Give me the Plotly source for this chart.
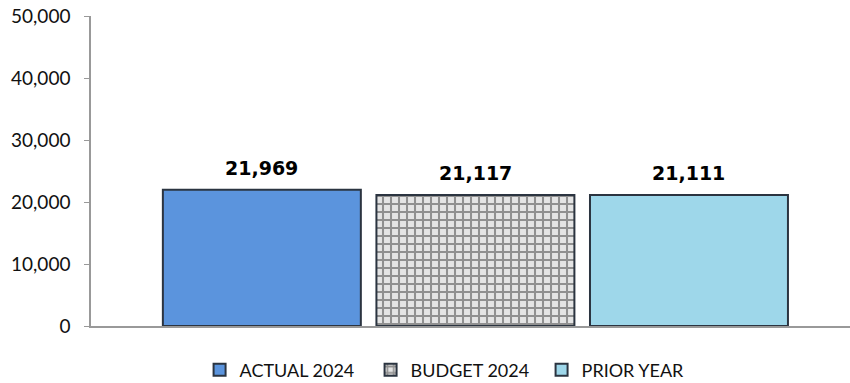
import plotly.graph_objects as go

# one bar per series
series_names = ['ACTUAL 2024', 'BUDGET 2024', 'PRIOR YEAR']
series_values = [21969, 21117, 21111]

y_ticks = [0, 10000, 20000, 30000, 40000, 50000]
y_tick_labels = ['0', '10,000', '20,000', '30,000', '40,000', '50,000']

fills = ['#5B94DD', '#E4E4E4', '#9ED7EA']
patterns = [None, dict(shape='+', fgcolor='#3C3C3C', size=8, solidity=0.45), None]

fig = go.Figure()

for i, name in enumerate(series_names):
    marker = dict(color=fills[i], line=dict(color='#2B3440', width=2))
    if patterns[i]:
        marker['pattern'] = patterns[i]
    fig.add_trace(go.Bar(x=[i], y=[series_values[i]], name=name, width=0.927, marker=marker))

    # value labels above the bars
    fig.add_annotation(x=i, y=series_values[i], text=f'{series_values[i]:,}',
                       showarrow=False, yanchor='bottom', yshift=9,
                       font=dict(family='DejaVu Sans', size=19, color='black', weight='bold'))

fig.update_layout(
    width=850, height=383,
    margin=dict(l=91, r=0, t=16, b=57),
    plot_bgcolor='white', paper_bgcolor='white',
    showlegend=True,
    # container ref so the legend doesn't push the bottom margin
    legend=dict(orientation='h', x=0.481, xanchor='center', yref='container', y=13 / 383,
                yanchor='middle', entrywidth=126,
                font=dict(family='Lato', size=18, color='#111')),
    font=dict(family='Lato'),
)

fig.update_xaxes(range=[-0.80, 2.754], showticklabels=False, showgrid=False, zeroline=False,
                 showline=True, linecolor='#999999', linewidth=1.5, ticks='', automargin=False)

fig.update_yaxes(range=[0, 50000], tickvals=y_ticks, ticktext=y_tick_labels,
                 showgrid=False, zeroline=False, showline=True, linecolor='#999999', linewidth=1.5,
                 ticks='outside', ticklen=5, tickcolor='#999999', ticklabelstandoff=10,
                 ticklabeloverflow='allow',
                 tickfont=dict(family='Lato', size=19, color='#111'), automargin=False)

# drop the default 8px body margin so the figure sits at the window edge
fig.write_html("out.html", config={'displayModeBar': False},
               post_script="document.body.style.margin = '0';")
